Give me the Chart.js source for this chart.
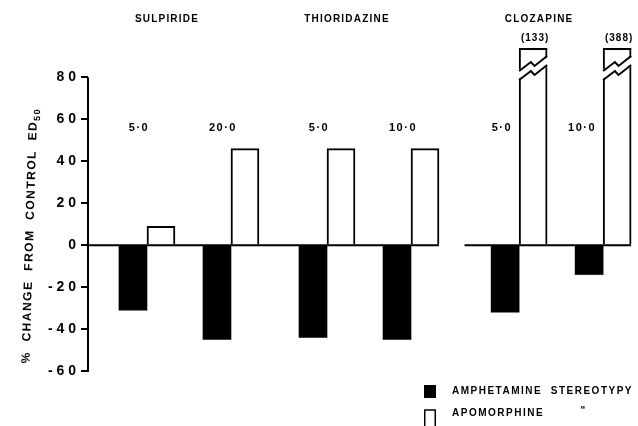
<!DOCTYPE html>
<html>
<head>
<meta charset="utf-8">
<style>
  html, body { margin: 0; padding: 0; background: #fff; }
  #wrap { width: 638px; height: 426px; }
</style>
<script src="https://cdn.jsdelivr.net/npm/chart.js@4.4.0/dist/chart.umd.min.js"></script>
</head>
<body>
<div id="wrap"><canvas id="chart"></canvas></div>
<script>
// 药物分组与剂量
const groups = ['SULPIRIDE', 'THIORIDAZINE', 'CLOZAPINE'];
const doses = ['5·0', '20·0', '5·0', '10·0', '5·0', '10·0'];
const doseGroup = [0, 0, 1, 1, 2, 2];

// % change from control ED50
const amphetamine = [-31, -45, -44, -45, -32, -14];
const apomorphine = [9, 46, 46, 46, 133, 388];

const yTicks = [80, 60, 40, 20, 0, -20, -40, -60];
const seriesNames = ['AMPHETAMINE  STEREOTYPY', 'APOMORPHINE'];

// 画面布局常量
const FONT = '"Liberation Sans", Arial, sans-serif';
const Y_TOP = 94;                   // values above this are drawn with a break
const GROUP_SHIFT = [0, 0.143, 0.43]; // extra space before each drug group
const DOSE_LABEL_LEVEL = 56;
const baselinePanels = [[0, 1], [2]];

const xPos = i => i + GROUP_SHIFT[doseGroup[i]];

function spaced(v) {
    return String(v).split('').join(' ');
}

// 装饰：坐标轴、零线、断裂标记、文字、图例
const decor = {
    id: 'decor',
    afterDatasetsDraw(chart) {
        const { ctx, chartArea: area, scales: { y } } = chart;
        const black = chart.getDatasetMeta(0).data;
        const white = chart.getDatasetMeta(1).data;
        const y0 = y.getPixelForValue(0);

        ctx.save();
        ctx.strokeStyle = '#000';
        ctx.fillStyle = '#000';
        ctx.lineWidth = 2;

        // y 轴
        ctx.beginPath();
        ctx.moveTo(area.left, y.getPixelForValue(yTicks[0]));
        ctx.lineTo(area.left, y.getPixelForValue(yTicks[yTicks.length - 1]) + 1);
        ctx.stroke();

        // 零线
        baselinePanels.forEach(p => {
            const first = doseGroup.indexOf(p[0]);
            const last = doseGroup.lastIndexOf(p[p.length - 1]);
            const start = p[0] === 0 ? area.left : black[first].x - black[first].width * 1.45;
            const end = white[last].x + white[last].width / 2;
            ctx.beginPath();
            ctx.moveTo(start, y0);
            ctx.lineTo(end, y0);
            ctx.stroke();
        });

        // 断裂标记
        white.forEach((bar, i) => {
            if (apomorphine[i] <= Y_TOP) return;
            const w = bar.width;
            const L = bar.x - w / 2, R = bar.x + w / 2, T = area.top;
            const zig = d => [[L, T + 23 + d], [L + 0.42 * w, T + 14 + d], [L + 0.55 * w, T + 18 + d], [R, T + 8 + d]];
            const up = zig(0), lo = zig(9);

            ctx.fillStyle = '#fff';
            ctx.beginPath();
            const poly = [...up, ...lo.slice().reverse()];
            poly.forEach(([px, py], k) => {
                const ex = px === L ? -2 : (px === R ? 2 : 0);
                k ? ctx.lineTo(px + ex, py) : ctx.moveTo(px + ex, py);
            });
            ctx.closePath();
            ctx.fill();

            ctx.fillStyle = '#000';
            ctx.fillRect(L, T, w, 2);
            [up, lo].forEach(line => {
                ctx.beginPath();
                line.forEach(([px, py], k) => k ? ctx.lineTo(px, py) : ctx.moveTo(px, py));
                ctx.stroke();
            });

            ctx.font = 'bold 10px ' + FONT;
            ctx.letterSpacing = '1px';
            ctx.textAlign = 'center';
            ctx.textBaseline = 'middle';
            ctx.fillText('(' + apomorphine[i] + ')', bar.x + 2, T - 10);
        });
        ctx.restore();
    },
    afterDraw(chart) {
        const { ctx, chartArea: area, scales: { x, y } } = chart;
        const white = chart.getDatasetMeta(1).data;

        ctx.save();
        ctx.fillStyle = '#000';
        ctx.strokeStyle = '#000';
        ctx.textBaseline = 'middle';
        ctx.textAlign = 'center';

        // 药物名称
        ctx.font = 'bold 10px ' + FONT;
        ctx.letterSpacing = '1.2px';
        groups.forEach((g, gi) => {
            const first = doseGroup.indexOf(gi);
            const last = doseGroup.lastIndexOf(gi);
            const cx = (x.getPixelForValue(xPos(first)) + x.getPixelForValue(xPos(last))) / 2 - 22;
            ctx.fillText(g, cx, 19);
        });

        // 剂量标签
        ctx.font = 'bold 11px ' + FONT;
        ctx.letterSpacing = '1.5px';
        const ly = y.getPixelForValue(DOSE_LABEL_LEVEL);
        doses.forEach((d, i) => {
            const tw = ctx.measureText(d).width;
            let cx = x.getPixelForValue(xPos(i)) - 8;
            const wb = white[i];
            if (apomorphine[i] > DOSE_LABEL_LEVEL) {
                cx = Math.min(cx, wb.x - wb.width / 2 - tw / 2 - 7);
            }
            ctx.fillText(d, cx, ly);
        });

        // y 轴标题
        ctx.save();
        ctx.translate(30, (area.top + area.bottom) / 2 + 26);
        ctx.rotate(-Math.PI / 2 + 0.03);
        ctx.letterSpacing = '1.5px';
        const main = '%  CHANGE  FROM  CONTROL  ED';
        ctx.font = 'bold 12px ' + FONT;
        const mw = ctx.measureText(main).width;
        ctx.font = 'bold 9px ' + FONT;
        const sw = ctx.measureText('50').width;
        const sx = -(mw + sw) / 2;
        ctx.font = 'bold 12px ' + FONT;
        ctx.textAlign = 'left';
        ctx.fillText(main, sx, 0);
        ctx.font = 'bold 9px ' + FONT;
        ctx.fillText('50', sx + mw, 4);
        ctx.restore();

        // 图例
        ctx.font = 'bold 10px ' + FONT;
        ctx.letterSpacing = '1.5px';
        ctx.textAlign = 'left';
        const lx = chart.width - 214;
        const rows = [area.bottom + 20, area.bottom + 42];
        ctx.fillRect(lx, rows[0] - 6, 12, 13);
        ctx.lineWidth = 1.5;
        ctx.beginPath();
        ctx.moveTo(lx + 0.75, rows[1] + 14);
        ctx.lineTo(lx + 0.75, rows[1] - 3);
        ctx.lineTo(lx + 11.25, rows[1] - 3);
        ctx.lineTo(lx + 11.25, rows[1] + 14);
        ctx.stroke();
        ctx.fillText(seriesNames[0], lx + 28, rows[0]);
        ctx.fillText(seriesNames[1], lx + 28, rows[1]);
        // 同上符号
        const head = ctx.measureText('AMPHETAMINE  ').width;
        const tail = ctx.measureText('STEREOTYPY').width;
        ctx.textAlign = 'center';
        ctx.fillText('"', lx + 28 + head + tail * 0.4, rows[1] - 2);
        ctx.restore();
    }
};

// 初始化图表
document.addEventListener('DOMContentLoaded', () => {
    const ctx = document.getElementById('chart').getContext('2d');

    new Chart(ctx, {
        type: 'bar',
        data: {
            datasets: [
                {
                    label: seriesNames[0],
                    data: amphetamine.map((v, i) => ({ x: xPos(i), y: v })),
                    backgroundColor: '#000',
                    borderWidth: 0,
                    barThickness: 28
                },
                {
                    label: seriesNames[1],
                    data: apomorphine.map((v, i) => ({ x: xPos(i), y: v })),
                    backgroundColor: '#fff',
                    borderColor: '#000',
                    borderWidth: 2,
                    borderSkipped: 'start',
                    barThickness: 28
                }
            ]
        },
        options: {
            responsive: true,
            maintainAspectRatio: false,
            animation: false,
            layout: {
                padding: { top: 48, bottom: 55, left: 0, right: 0 }
            },
            plugins: {
                legend: { display: false },
                tooltip: { enabled: false }
            },
            scales: {
                x: {
                    type: 'linear',
                    display: false,
                    offset: false,
                    min: -0.702,
                    max: 5.845
                },
                y: {
                    min: -60,
                    max: Y_TOP,
                    afterBuildTicks: s => { s.ticks = yTicks.map(v => ({ value: v })); },
                    afterFit: s => { s.width = 88; },
                    border: { display: false },
                    grid: {
                        drawOnChartArea: false,
                        color: '#000',
                        lineWidth: 2,
                        tickLength: 7
                    },
                    ticks: {
                        color: '#000',
                        padding: 5,
                        font: { family: FONT, weight: 'bold', size: 14 },
                        callback: v => spaced(v)
                    }
                }
            }
        },
        plugins: [decor]
    });
});
</script>
</body>
</html>
